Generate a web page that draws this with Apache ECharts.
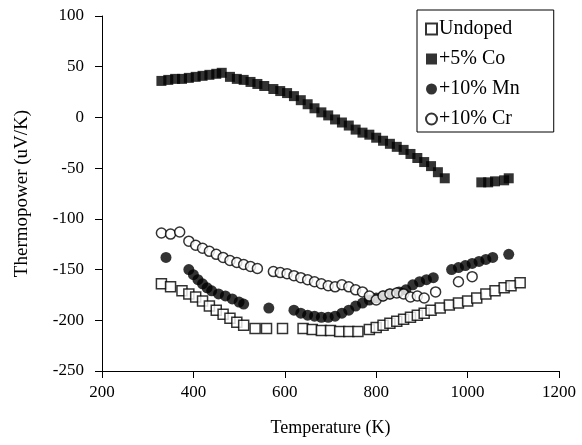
<!DOCTYPE html>
<html>
<head>
<meta charset="utf-8">
<script src="https://cdn.jsdelivr.net/npm/echarts@6/dist/echarts.min.js"></script>
<style>
  html, body { margin: 0; padding: 0; background: #fff; }
  #chart { width: 582px; height: 445px; }
</style>
</head>
<body>
<div id="chart"></div>
<script>
// temperature (K) / thermopower (uV/K)
var undopedT = [330, 350, 375, 390, 405, 420, 435, 450, 465, 480, 495, 510, 535, 560, 595, 640, 660, 680, 700, 720, 740, 760, 785, 800, 815, 830, 845, 860, 875, 890, 905, 920, 940, 960, 980, 1000, 1020, 1040, 1060, 1080, 1095, 1115];
var undopedS = [-164, -167, -171, -174, -177, -181, -186, -190, -194, -198, -202, -205, -208, -208, -208, -208, -209, -210, -210, -211, -211, -211, -209, -207, -205, -203, -201, -199, -197, -195, -193, -190, -188, -185, -183, -181, -178, -174, -171, -168, -166, -163];

var coT = [330, 345, 360, 375, 390, 405, 420, 435, 450, 462, 480, 495, 510, 525, 540, 555, 575, 590, 605, 620, 635, 650, 665, 680, 695, 710, 725, 740, 755, 770, 785, 800, 815, 830, 845, 860, 875, 890, 905, 920, 935, 950, 1030, 1045, 1060, 1080, 1090];
var coS = [36, 37, 38, 38, 39, 40, 41, 42, 43, 44, 40, 38, 37, 35, 33, 31, 28, 26, 24, 21, 17, 13, 9, 5, 2, -2, -5, -8, -12, -15, -17, -20, -23, -26, -29, -32, -36, -40, -44, -48, -54, -60, -64, -64, -63, -62, -60];

var mnT = [340, 390, 400, 410, 420, 430, 440, 455, 470, 485, 500, 510, 565, 620, 635, 650, 665, 680, 695, 710, 725, 740, 755, 770, 785, 800, 815, 830, 850, 865, 880, 895, 910, 925, 965, 980, 995, 1010, 1025, 1040, 1055, 1090];
var mnS = [-138, -150, -155, -160, -164, -168, -171, -174, -176, -179, -182, -184, -188, -190, -193, -195, -196, -197, -197, -196, -193, -190, -186, -183, -180, -178, -176, -174, -172, -170, -165, -162, -160, -158, -150, -148, -146, -144, -142, -140, -138, -135];

var crT = [330, 350, 370, 390, 405, 420, 435, 450, 465, 480, 495, 510, 525, 540, 575, 590, 605, 620, 635, 650, 665, 680, 695, 710, 725, 740, 755, 770, 785, 800, 815, 830, 845, 860, 875, 890, 905, 930, 980, 1010];
var crS = [-114, -115, -113, -122, -126, -129, -132, -135, -138, -141, -143, -145, -147, -149, -152, -153, -154, -156, -158, -160, -162, -164, -166, -167, -165, -167, -170, -172, -176, -180, -176, -174, -173, -174, -177, -176, -178, -172, -162, -157];

var seriesNames = ['Undoped', '+5% Co', '+10% Mn', '+10% Cr'];
var xTicks = [200, 400, 600, 800, 1000, 1200];
var yTicks = [-250, -200, -150, -100, -50, 0, 50, 100];

function pairs(xs, ys) {
    var out = [];
    for (var i = 0; i < xs.length; i++) {
        out.push([xs[i], ys[i]]);
    }
    return out;
}

var font = 'Liberation Serif';

var chart = echarts.init(document.getElementById('chart'));
var option = {
    animation: false,
    backgroundColor: '#fff',
    textStyle: { fontFamily: font, color: '#000' },
    grid: { left: 102, right: 23, top: 16, bottom: 74 },
    legend: {
        data: seriesNames,
        orient: 'vertical',
        left: 417,
        top: 10,
        borderColor: '#000',
        borderWidth: 1,
        padding: [8, 34, 2, 8],
        itemGap: 8,
        itemWidth: 11,
        itemHeight: 11,
        textStyle: { fontFamily: font, fontSize: 20, lineHeight: 22, color: '#000', padding: [0, 0, 0, -3] }
    },
    xAxis: {
        type: 'value',
        min: xTicks[0],
        max: xTicks[xTicks.length - 1],
        interval: 200,
        name: 'Temperature (K)',
        nameLocation: 'middle',
        nameGap: 48,
        nameTextStyle: { fontFamily: font, fontSize: 18, color: '#000' },
        axisLine: { onZero: false, lineStyle: { color: '#000', width: 1 } },
        axisTick: { length: 7, lineStyle: { color: '#000' } },
        axisLabel: {
            fontFamily: font, fontSize: 17, color: '#000', margin: 13,
            formatter: function (v) { return String(v); }
        },
        splitLine: { show: false }
    },
    yAxis: {
        type: 'value',
        min: yTicks[0],
        max: yTicks[yTicks.length - 1],
        interval: 50,
        name: 'Thermopower (uV/K)',
        nameLocation: 'middle',
        nameGap: 70,
        nameTextStyle: { fontFamily: font, fontSize: 19, color: '#000' },
        axisLine: { show: true, lineStyle: { color: '#000', width: 1 } },
        axisTick: { show: true, length: 7, lineStyle: { color: '#000' } },
        axisLabel: {
            fontFamily: font, fontSize: 17, color: '#000', margin: 18,
            formatter: function (v) { return String(v); }
        },
        splitLine: { show: false }
    },
    series: [
        {
            name: seriesNames[0],
            type: 'scatter',
            symbol: 'rect',
            symbolSize: 10,
            itemStyle: { color: '#fff', borderColor: '#000', borderWidth: 1.5 },
            data: pairs(undopedT, undopedS)
        },
        {
            name: seriesNames[1],
            type: 'scatter',
            symbol: 'rect',
            symbolSize: 10,
            itemStyle: { color: '#000' },
            data: pairs(coT, coS)
        },
        {
            name: seriesNames[2],
            type: 'scatter',
            symbol: 'circle',
            symbolSize: 11,
            itemStyle: { color: '#000' },
            data: pairs(mnT, mnS)
        },
        {
            name: seriesNames[3],
            type: 'scatter',
            symbol: 'circle',
            symbolSize: 10,
            itemStyle: { color: '#fff', borderColor: '#000', borderWidth: 1.5 },
            data: pairs(crT, crS)
        }
    ]
};
chart.setOption(option);
</script>
</body>
</html>
